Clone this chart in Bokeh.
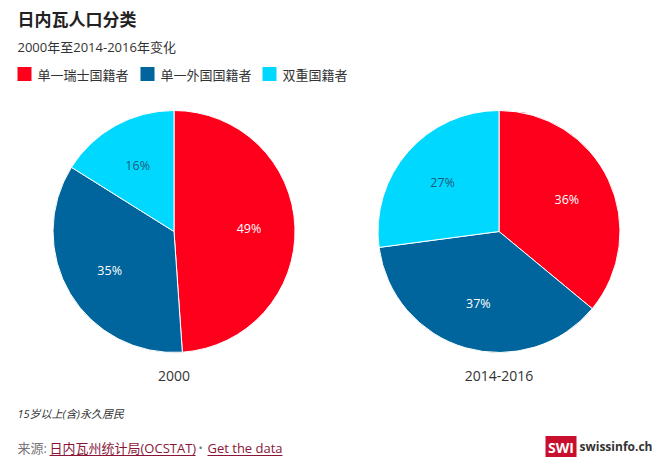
import math
from bokeh.plotting import figure
from bokeh.models import Range1d, ColumnDataSource
from bokeh.core.properties import value
from bokeh.embed import file_html
from bokeh.resources import INLINE

# ---- data ----
categories = ["单一瑞士国籍者", "单一外国国籍者", "双重国籍者"]
colors = ["#ff001c", "#00659c", "#00d8ff"]
label_colors = ["#ffffff", "#ffffff", "#1e5a7a"]
periods = ["2000", "2014-2016"]
share_2000 = [48.9, 35.0, 16.1]
share_2014_2016 = [36.0, 36.9, 27.1]

W, H = 656, 457
FONT = "'Open Sans', 'Noto Sans CJK SC', sans-serif"
CJK = "'Noto Sans CJK SC', 'Open Sans', sans-serif"

p = figure(width=W, height=H, output_backend="svg", toolbar_location=None,
           x_range=Range1d(0, W), y_range=Range1d(0, H), min_border=0,
           outline_line_color=None, background_fill_color="white",
           border_fill_color="white")
p.axis.visible = False
p.grid.visible = False


def Y(page_y):
    return H - page_y


def X(page_x):
    return page_x


R = 121
centers = [(X(173.5), Y(231)), (X(498.5), Y(231))]

for (cx, cy), shares, period in zip(centers, [share_2000, share_2014_2016], periods):
    total = sum(shares)
    cum = 0.0
    starts, ends, lx, ly, labels = [], [], [], [], []
    for s in shares:
        a0 = math.pi / 2 - 2 * math.pi * cum / total
        cum += s
        a1 = math.pi / 2 - 2 * math.pi * cum / total
        starts.append(a1)
        ends.append(a0)
        mid = (a0 + a1) / 2
        lx.append(cx + 0.62 * R * math.cos(mid))
        ly.append(cy + 0.62 * R * math.sin(mid))
        labels.append(f"{round(s / total * 100)}%")
    src = ColumnDataSource(dict(start=starts, end=ends, color=colors,
                                lx=lx, ly=ly, label=labels, lc=label_colors))
    p.wedge(x=cx, y=cy, radius=R, radius_units="screen", start_angle="start",
            end_angle="end", fill_color="color", line_color="white",
            line_width=1, source=src)
    p.text(x="lx", y="ly", text="label", text_color="lc", source=src,
           text_font=value(FONT), text_font_size="12.5px",
           text_align="center", text_baseline="middle")
    p.text(x=[cx], y=[Y(375)], text=[period], text_font=value(FONT),
           text_font_size="14px", text_color="#333333",
           text_align="center", text_baseline="middle")

# title / subtitle
p.text(x=[X(17)], y=[Y(18)], text=["日内瓦人口分类"], text_font=value(CJK),
       text_font_size="17px", text_font_style="bold", text_color="#222222",
       text_baseline="middle")
p.text(x=[X(17)], y=[Y(46)], text=["2000年至2014-2016年变化"], text_font=value(FONT),
       text_font_size="13px", text_color="#333333", text_baseline="middle")

# legend
leg_x = [17, 140, 262]
for lxp, cat, col in zip(leg_x, categories, colors):
    p.rect(x=[X(lxp + 7)], y=[Y(73.5)], width=14, height=14,
           width_units="screen", height_units="screen",
           fill_color=col, line_color=None)
    p.text(x=[X(lxp + 20)], y=[Y(74)], text=[cat], text_font=value(CJK),
           text_font_size="13px", text_color="#333333", text_baseline="middle")

# footnote
p.text(x=[X(17)], y=[Y(413)], text=["15岁以上(含)永久居民"], text_font=value(FONT),
       text_font_size="11px", text_font_style="italic", text_color="#333333",
       text_baseline="middle")

# source line
p.text(x=[X(17)], y=[Y(447)], text=["来源: "], text_font=value(FONT),
       text_font_size="13px", text_color="#777777", text_baseline="middle")
link_col = "#8a1538"
p.text(x=[X(49)], y=[Y(447)], text=["日内瓦州统计局(OCSTAT)"], text_font=value(FONT),
       text_font_size="13px", text_color=link_col, text_baseline="middle")
p.text(x=[X(200)], y=[Y(447)], text=["•"], text_font=value(FONT),
       text_font_size="11px", text_color="#777777", text_baseline="middle",
       text_align="center")
p.text(x=[X(207)], y=[Y(447)], text=["Get the data"], text_font=value(FONT),
       text_font_size="13px", text_color=link_col, text_baseline="middle")
p.segment(x0=[X(49), X(207)], y0=[Y(455), Y(455)], x1=[X(195), X(282)],
          y1=[Y(455), Y(455)], line_color=link_col, line_width=1)

# logo
p.rect(x=[X(560.5)], y=[Y(446.5)], width=31, height=22, width_units="screen",
       height_units="screen", fill_color="#c8102e", line_color=None)
p.text(x=[X(560.5)], y=[Y(446.5)], text=["SWI"], text_font=value("Open Sans"),
       text_font_size="14px", text_font_style="bold", text_color="white",
       text_align="center", text_baseline="middle")
p.text(x=[X(579)], y=[Y(446)], text=["swissinfo.ch"], text_font=value("Open Sans"),
       text_font_size="12px", text_font_style="bold", text_color="#333333",
       text_baseline="middle")

open("out.html", "w").write(file_html(p, INLINE))
